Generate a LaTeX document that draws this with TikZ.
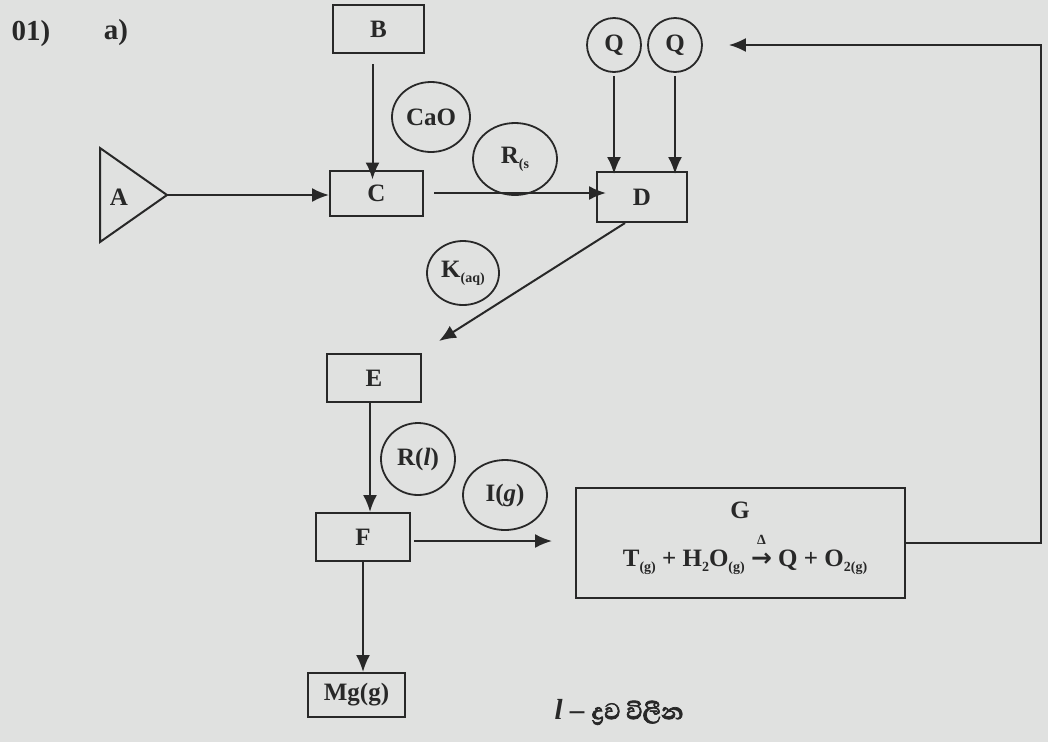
\documentclass[tikz,border=0pt]{standalone}
\usepackage{fontspec}
\setmainfont{Liberation Serif}
\newfontfamily\sinfont[Script=Sinhala,FakeBold=2.5]{Abhaya Libre}
\newfontfamily\djv{DejaVu Sans}
\usetikzlibrary{arrows.meta,shapes.geometric,calc}
\definecolor{paper}{RGB}{224,225,224}
\definecolor{ink}{RGB}{40,40,40}
\newcommand\mysub[1]{\raisebox{-0.45ex}{\fontsize{14}{14}\selectfont #1}}
\begin{document}
\begin{tikzpicture}[x=1pt,y=-1pt,
  every node/.style={text=ink,font=\fontsize{25}{30}\selectfont\bfseries},
  box/.style={draw=ink,line width=2pt,rectangle,inner sep=0pt},
  oval/.style={draw=ink,line width=1.8pt,ellipse,inner sep=0pt},
  arr/.style={draw=ink,line width=2pt,-{Latex[length=17pt,width=14pt]}},
  ln/.style={draw=ink,line width=2pt}]
\fill[paper] (0,0) rectangle (1048,742);
\useasboundingbox (0,0) rectangle (1048,742);
% headings
\node[font=\fontsize{29}{34}\selectfont\bfseries] (h1) at (31,34) {01)};
\node[font=\fontsize{29}{34}\selectfont\bfseries] (h2) at (116,33) {a)};
% boxes
\node[box,minimum width=91pt,minimum height=48pt] (B) at (378.5,29) {B};
\node[box,minimum width=93pt,minimum height=45pt] (C) at (376.5,193) {C};
\node[box,minimum width=90pt,minimum height=50pt] (D) at (642,197) {D};
\node[box,minimum width=94pt,minimum height=48pt] (E) at (374,378) {E};
\node[box,minimum width=94pt,minimum height=48pt] (F) at (363,537) {F};
\node[box,minimum width=97pt,minimum height=44pt] (Mg) at (356.5,695) {Mg(g)};
\node[box,minimum width=329pt,minimum height=110pt] (G) at (740.5,543) {};
\node (Glab) at (740,510) {G};
\node (Geq) at (745,555) {T\mysub{(g)} + H\mysub{2}O\mysub{(g)} \ooalign{\hfil\raisebox{0.85em}{\fontsize{14}{14}\selectfont Δ}\hfil\cr {\djv\bfseries →}\cr} Q + O\mysub{2(g)}};
% triangle A
\draw[ln,line join=miter] (100,148) -- (167,195) -- (100,242) -- cycle;
\coordinate (Atip) at (167,195);
\node (A) at (119,197) {A};
% Q circles
\node[oval,minimum width=54pt,minimum height=54pt] (Q1) at (614,45) {Q};
\node[oval,minimum width=54pt,minimum height=54pt] (Q2) at (675,45) {Q};
% reagent ovals
\node[oval,minimum width=78pt,minimum height=70pt] (CaO) at (431,117) {CaO};
\node[oval,minimum width=84pt,minimum height=72pt] (Rs) at (515,159) {R\mysub{(s}};
\node[oval,minimum width=72pt,minimum height=64pt] (K) at (463,273) {K\mysub{(aq)}};
\node[oval,minimum width=74pt,minimum height=72pt] (Rl) at (418,459) {R(\textit{l})};
\node[oval,minimum width=84pt,minimum height=70pt] (Ig) at (505,495) {I(\textit{g})};
% bottom note
\node[font=\fontsize{29}{34}\selectfont\bfseries] (note) at (619,712) {\textit{l} – {\sinfont ද්^^^^200dරව විලීන}};
% connectors
\draw[arr] (Atip) -- (C.west |- Atip);
\draw[arr] ([xshift=-6pt,yshift=-10pt]B.south) -- ([xshift=-6pt,yshift=-10pt]B.south |- C.north);
\draw[arr] ([xshift=10pt]C.east) -- ([xshift=10pt]C.east -| D.west);
\draw[arr] ([yshift=-3pt]Q1.south) -- ([yshift=-3pt]Q1.south |- D.north);
\draw[arr] ([yshift=-3pt]Q2.south) -- ([yshift=-3pt]Q2.south |- D.north);
\draw[arr] ([xshift=-17pt]D.south) -- ([xshift=17pt,yshift=12pt]E.north east);
\draw[arr] ([xshift=-4pt]E.south) -- ([xshift=-4pt]E.south |- F.north);
\draw[arr,shorten >=23pt] ([xshift=3pt,yshift=-4pt]F.east) -- ([yshift=-4pt]F.east -| G.west);
\draw[arr] (F.south) -- (F.south |- Mg.north);
\coordinate (R) at (1041,45);
\draw[arr] (G.east) -| (R) -- ([xshift=26pt]Q2.east);
\end{tikzpicture}
\end{document}
